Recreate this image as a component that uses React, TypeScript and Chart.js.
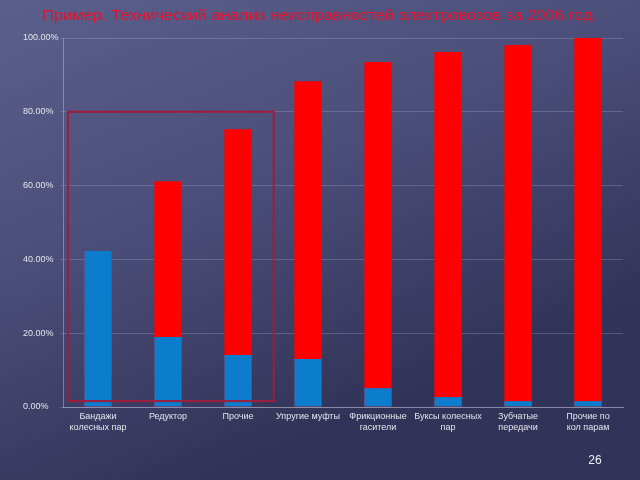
import React, { useEffect, useRef } from "react";
import { Chart, registerables } from "chart.js";

Chart.register(...registerables);

const TITLE = "Пример. Технический анализ неисправностей электровозов за 2006 год.";
const PAGE_NUMBER = "26";

const categories: string[][] = [
  ["Бандажи", "колесных пар"],
  ["Редуктор"],
  ["Прочие"],
  ["Упругие муфты"],
  ["Фрикционные", "гасители"],
  ["Буксы колесных", "пар"],
  ["Зубчатые", "передачи"],
  ["Прочие по", "кол парам"],
];

// individual share (blue)
const shareValues = [42.3, 19.0, 14.1, 13.0, 5.1, 2.7, 1.6, 1.6];
// cumulative share (red)
const cumulativeValues = [42.3, 61.2, 75.3, 88.3, 93.5, 96.2, 98.1, 100.0];

const yTicks = [0, 20, 40, 60, 80, 100];

// highlighted region (category index range, percent range)
const highlightX = [-0.43, 2.51];
const highlightY = [1.6, 80];

const FONT = "'Liberation Sans', Arial, sans-serif";

const bgPlugin = {
  id: "bgPlugin",
  beforeDraw(chart: any) {
    const { ctx, width, height } = chart;
    ctx.save();
    const g = ctx.createLinearGradient(0, 0, width * 0.3, height);
    g.addColorStop(0, "#5b5f8b");
    g.addColorStop(0.5, "#4b4e79");
    g.addColorStop(1, "#323358");
    ctx.fillStyle = g;
    ctx.fillRect(0, 0, width, height);
    ctx.restore();
  },
  afterDraw(chart: any) {
    const { ctx, scales } = chart;
    const x = scales.x;
    const y = scales.y;
    ctx.save();
    // highlight rectangle
    const l = x.getPixelForValue(highlightX[0]);
    const r = x.getPixelForValue(highlightX[1]);
    const t = y.getPixelForValue(highlightY[1]);
    const b = y.getPixelForValue(highlightY[0]);
    ctx.strokeStyle = "#a01c3c";
    ctx.lineWidth = 2;
    ctx.strokeRect(l, t, r - l, b - t);

    // title
    ctx.font = "14px " + FONT;
    ctx.fillStyle = "#e8102c";
    ctx.textBaseline = "middle";
    ctx.textAlign = "left";
    const w = ctx.measureText(TITLE).width;
    const target = 555;
    ctx.save();
    ctx.translate(42, 16);
    ctx.scale(target / w, 1);
    ctx.fillText(TITLE, 0, 0);
    ctx.restore();

    // page number
    ctx.font = "12px " + FONT;
    ctx.fillStyle = "#f2f2f6";
    ctx.textAlign = "center";
    ctx.fillText(PAGE_NUMBER, 595, 461);
    ctx.restore();
  },
};

export default function App() {
  const ref = useRef<HTMLCanvasElement | null>(null);
  useEffect(() => {
    if (!ref.current) return;
    const chart = new Chart(ref.current, {
      type: "bar",
      data: {
        labels: categories,
        datasets: [
          {
            label: "Доля",
            data: shareValues,
            backgroundColor: "#0c7ccc",
            barPercentage: 0.39,
            categoryPercentage: 1,
            order: 1,
          },
          {
            label: "Накопленная доля",
            data: cumulativeValues,
            backgroundColor: "#ff0000",
            barPercentage: 0.39,
            categoryPercentage: 1,
            order: 2,
          },
        ],
      },
      options: {
        animation: false,
        responsive: false,
        maintainAspectRatio: false,
        layout: { padding: { left: 23, right: 17, top: 38, bottom: 0 } },
        plugins: {
          legend: { display: false },
          title: { display: false },
          tooltip: { enabled: false },
        },
        scales: {
          x: {
            stacked: true,
            grid: { display: false, drawTicks: false, tickLength: 0 },
            border: { color: "rgba(200,200,220,0.45)" },
            ticks: {
              color: "#e4e4ee",
              font: { family: FONT, size: 9, lineHeight: 1.25 },
              maxRotation: 0,
              autoSkip: false,
              padding: 4,
            },
            afterFit(scale: any) {
              scale.height = 73;
            },
          },
          y: {
            stacked: false,
            min: 0,
            max: 100,
            afterBuildTicks(scale: any) {
              scale.ticks = yTicks.map((v) => ({ value: v }));
            },
            grid: {
              color: "rgba(170,174,205,0.3)",
              tickLength: 3,
            },
            border: { color: "rgba(200,200,220,0.45)" },
            ticks: {
              color: "#e4e4ee",
              font: { family: FONT, size: 9 },
              padding: 2,
              crossAlign: "far",
              callback: (v: any) => Number(v).toFixed(2) + "%",
            },
            afterFit(scale: any) {
              scale.width = 40;
            },
          },
        },
      },
      plugins: [bgPlugin],
    });
    return () => chart.destroy();
  }, []);
  return (
    <div style={{ position: "fixed", left: 0, top: 0, width: 640, height: 480 }}>
      <canvas ref={ref} width={640} height={480} style={{ display: "block", width: 640, height: 480 }} />
    </div>
  );
}
